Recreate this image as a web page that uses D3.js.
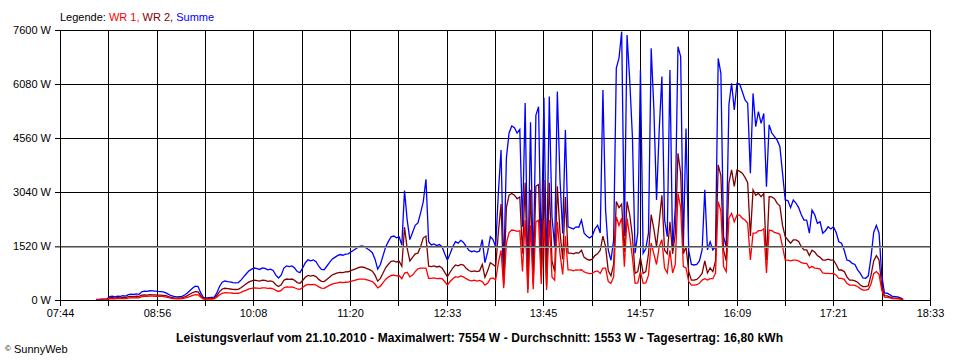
<!DOCTYPE html>
<html>
<head>
<meta charset="utf-8">
<script src="https://cdn.jsdelivr.net/npm/d3@7"></script>
<style>
  html, body { margin: 0; padding: 0; background: #fff; }
  svg { display: block; }
  text { font-family: "Liberation Sans", Arial, sans-serif; }
</style>
</head>
<body>
<svg id="chart" width="960" height="360"></svg>
<script>
// ---------- data ----------
const legendLabels = ["WR 1", "WR 2", "Summe"];
const xTickLabels = ["07:44", "08:56", "10:08", "11:20", "12:33", "13:45", "14:57", "16:09", "17:21", "18:33"];
const yTickValues = [0, 1520, 3040, 4560, 6080, 7600];
const axisStart = "07:44";
const axisEnd = "18:33";
const seriesStart = "08:11";   // first sample
const stepMinutes = 2;         // sample interval
const titleText = "Leistungsverlauf vom 21.10.2010 - Maximalwert: 7554 W - Durchschnitt: 1553 W - Tagesertrag: 16,80 kWh";

const summe = [
  20,20,25,25,30, 95,110,90,105,100,
  120,110, 150,165,155,170,160, 230,250,245,
  260,255,250,240,235,230, 200,160,120,100,
  90,95, 100,140,200,270,340,390, 380,200,
  70,60,65,70,75, 200,380,500,535, 520,
  510,490,480,490, 560,650,740,820,870, 900,
  880,860,900,890,850,870,830, 700,620,700,
  900,960,940,960,900, 800,770, 900,1050,1130,
  1100,1130, 1080,950,860, 850,950,1050, 1150,1200,
  1250,1280,1260,1290, 1300,1350,1400,1450,1500,1520,
  1500,1450,1400,1330,1150, 870, 1000,1250,1500,1650,
  1780,1800,1750,1780, 1550, 3080, 2250, 1700, 1900,2100,
  2170, 2450, 2770, 3400, 1640, 1550,1580,1530,1560,1500,
  1300, 1125, 1300,1500,1640, 1600,1680,1620, 1500,1400,
  1360,1380, 1350, 1380, 1700, 1050, 1350, 1780, 1700, 1500,
  3010, 4220, 760, 4000, 4700, 4900,4850,4700,4800, 2060,
  5545, 560, 5000, 800, 5200, 5440, 1200, 5690, 760, 5725,
  2345, 1500, 5865, 3380, 1870, 4785, 2060, 2030,2000,2060,
  2050, 2250, 1880,1800,1745, 1800, 2000, 2100, 1885, 5910,
  2530, 1400,1120,1690, 6530, 6810, 7554, 1800, 7460, 6190,
  4600, 1315, 1880, 6475, 1315, 1450, 1880, 7085, 5400, 2815,
  4785, 6290, 2250, 1780, 6475, 1410, 2600, 7130, 6850, 1500,
  4830, 1400, 1000,985,1000,1100, 1410, 3100, 1410, 1640,
  1410, 1500, 6800, 6380, 1780, 1500, 5500, 6100, 5350, 6100,
  6080, 5860, 5630, 5540, 3570, 5815, 4880, 5300, 4970, 5250,
  3190, 4930, 4700, 4600, 4500, 4320, 3570, 2815, 2800, 2600,
  2815, 2730, 2600, 2400, 2250, 2250, 1880, 2530, 2400, 2160,
  2200, 1880, 1950, 2060, 2000, 2060, 1900, 1640, 1600, 1400,
  1125, 1100, 1030, 1000, 850, 750, 620, 610, 680, 1200,
  1900, 2100, 1880, 700, 200, 190, 150, 100, 95, 90,
  60, 20
];

const wr2 = [
  12,12,15,15,18, 60,70,55,65,60,
  75,70, 95,100,95,105,100, 135,145,140,
  150,145,145,140,135,130, 120,95,75,60,
  55,60, 60,85,125,170,210,235, 230,120,
  42,38,40,42,45, 125,235,310,330, 320,
  310,300,295,300, 345,400,460,510,540, 560,
  545,530,560,550,525,540,515, 430,380,430,
  555,590,580,590,555, 490,470, 550,640,690,
  670,690, 660,580,525, 520,580,640, 705,735,
  765,780,770,790, 795,825,855,885,915,930,
  915,885,855,810,700, 530, 610,760,915,1005,
  1090,1100,1070,1090, 950, 2050, 1450, 1100, 1200,1300,
  1320, 1500, 1750, 1800, 950, 940,960,930,950,900,
  780, 655, 780,900,985, 960,1000,980, 890,830,
  800,820, 800, 820, 1000, 640, 820, 1050, 1000, 940,
  1900, 2700, 430, 2600, 2950, 3000,2950,2850,2900, 1300,
  3300, 300, 3100, 450, 3200, 3250, 700, 3380, 400, 3300,
  1100, 800, 3200, 1900, 1150, 2900, 1320, 1320,1300,1330,
  1320, 1400, 1200,1150,1120, 1150, 1250, 1300, 1400, 1800,
  1500, 820,680,1000, 2770, 2600, 2700, 1350, 2770, 2400,
  1800, 750, 800, 1200, 750, 800, 1300, 2400, 2000, 1500,
  2200, 2950, 1400, 1300, 2200, 1300, 1880, 4130, 3570, 1300,
  1500, 800, 560,560,580,650, 750, 1100, 760, 900,
  800, 1100, 3800, 3500, 1400, 1100, 3300, 3660, 3200, 3660,
  3620, 3570, 3450, 3300, 1800, 3100, 2950, 3000, 2910, 3000,
  1125, 2910, 2900, 2850, 2720, 2650, 2100, 1780, 1690, 1600,
  1690, 1690, 1650, 1500, 1410, 1410, 1250, 1400, 1350, 1250,
  1200, 1125, 1125, 1150, 1125, 1125, 1000, 845, 845, 800,
  650, 560, 560, 540, 500, 420, 375, 375, 400, 700,
  1100, 1250, 1125, 400, 120, 115, 90, 60, 55, 55,
  35, 12
];

const wr1 = [
  8,8,10,10,12, 35,40,35,40,40,
  45,40, 55,65,60,65,60, 95,105,105,
  110,110,105,100,100,100, 80,65,45,40,
  35,35, 40,55,75,100,130,150, 145,80,
  28,22,25,28,30, 75,145,190,205, 200,
  200,190,185,190, 215,250,280,310,330, 340,
  335,330,340,340,325,330,315, 270,240,270,
  345,370,360,370,345, 310,300, 350,410,440,
  430,440, 420,370,335, 330,370,410, 445,465,
  485,500,490,500, 505,525,545,565,585,590,
  585,565,545,520,450, 340, 390,490,585,645,
  690,700,680,690, 600, 760, 780, 650, 700,800,
  880, 900, 900, 900, 610, 610,620,600,610,600,
  520, 420, 520,600,655, 640,680,650, 600,560,
  540,560, 530, 550, 520, 420, 470, 600, 620, 560,
  1050, 1400, 330, 1600, 1900, 1970,1960,1930,1950, 800,
  2250, 200, 2100, 300, 2200, 2250, 450, 2250, 280, 2250,
  650, 560, 2200, 1300, 720, 1800, 850, 850,820,850,
  840, 850, 790,760,740, 750, 800, 820, 750, 900,
  900, 520,470,650, 2345, 2100, 2300, 940, 2300, 1800,
  1200, 470, 480, 800, 470, 480, 700, 1600, 1300, 1000,
  1500, 1700, 900, 760, 1400, 760, 1000, 3000, 2600, 940,
  900, 520, 420,420,430,470, 560, 600, 560, 600,
  600, 750, 2770, 2500, 940, 800, 2300, 2440, 2200, 2390,
  2390, 2300, 2250, 2160, 1125, 1880, 1880, 1950, 1950, 2000,
  760, 1970, 1950, 1900, 1880, 1850, 1500, 1125, 1125, 1100,
  1125, 1125, 1100, 1050, 1030, 1030, 900, 950, 900, 890,
  870, 760, 750, 750, 740, 750, 700, 610, 610, 580,
  470, 420, 420, 410, 380, 320, 280, 280, 300, 450,
  740, 800, 720, 280, 80, 75, 60, 40, 40, 35,
  25, 8
];

// ---------- drawing ----------
(function () {
const toMin = s => { const [h, m] = s.split(":").map(Number); return h * 60 + m; };
const t0 = toMin(axisStart), t1 = toMin(axisEnd), ts = toMin(seriesStart);

const svg = d3.select("#chart");
const L = 60, R = 930, T = 30, B = 300;

const x = d3.scaleLinear().domain([t0, t1]).range([L, R]);
const y = d3.scaleLinear().domain([0, 7600]).range([B, T]);

const nIntervals = (xTickLabels.length - 1) * 2;
const xTickValues = d3.range(nIntervals + 1).map(k => t0 + k * (t1 - t0) / nIntervals);

const px = v => Math.round(v) + 0.5;

// vertical gridlines
svg.append("g").selectAll("line").data(xTickValues).join("line")
  .attr("x1", d => px(x(d))).attr("x2", d => px(x(d)))
  .attr("y1", T).attr("y2", B)
  .attr("stroke", "#000").attr("stroke-width", 1).attr("shape-rendering", "crispEdges");

// horizontal gridlines
svg.append("g").selectAll("line").data(yTickValues.filter(v => v !== 1520)).join("line")
  .attr("x1", L - 5).attr("x2", R)
  .attr("y1", d => px(y(d))).attr("y2", d => px(y(d)))
  .attr("stroke", "#000").attr("stroke-width", 1).attr("shape-rendering", "crispEdges");

// series
const line = arr => d3.line()
  .x((d, i) => x(ts + i * stepMinutes))
  .y(d => y(d))(arr);

const seriesDefs = [
  { data: summe, color: "#0000ff" },
  { data: wr2, color: "#800000" },
  { data: wr1, color: "#ff0000" }
];
svg.append("g").selectAll("path").data(seriesDefs).join("path")
  .attr("d", d => line(d.data))
  .attr("fill", "none")
  .attr("stroke", d => d.color)
  .attr("stroke-width", 1.3)
  .attr("stroke-linejoin", "miter");

// 1520 line (grey double line) drawn on top
const y1520 = Math.round(y(1520));
svg.append("line").attr("x1", L - 5).attr("x2", R)
  .attr("y1", y1520 + 0.5).attr("y2", y1520 + 0.5)
  .attr("stroke", "#505050").attr("shape-rendering", "crispEdges");
svg.append("line").attr("x1", L - 5).attr("x2", R)
  .attr("y1", y1520 + 1.5).attr("y2", y1520 + 1.5)
  .attr("stroke", "#a0a0a0").attr("shape-rendering", "crispEdges");

// x axis
const xAxis = d3.axisBottom(x).tickValues(xTickValues).tickSize(5).tickSizeOuter(0)
  .tickFormat((d, i) => i % 2 === 0 ? xTickLabels[i / 2] : "");
const gx = svg.append("g").attr("transform", `translate(0,${B + 0.5})`).call(xAxis);
gx.select(".domain").attr("stroke", "#000").attr("shape-rendering", "crispEdges").attr("d", `M${L},0H${R + 1}`);
gx.selectAll(".tick").attr("transform", d => `translate(${px(x(d))},0)`);
gx.selectAll(".tick line").attr("stroke", "#000").attr("shape-rendering", "crispEdges");
gx.selectAll(".tick text").attr("font-size", 11).attr("fill", "#000").attr("y", 9).attr("dy", "0.71em")
  .attr("font-family", "Liberation Sans, Arial, sans-serif");

// y labels
svg.append("g").selectAll("text").data(yTickValues).join("text")
  .attr("x", 51).attr("y", d => y(d)).attr("dy", "0.36em")
  .attr("text-anchor", "end").attr("font-size", 11).attr("fill", "#000")
  .text(d => d + " W");

// left axis line
svg.append("line").attr("x1", px(L)).attr("x2", px(L)).attr("y1", T).attr("y2", B + 5)
  .attr("stroke", "#000").attr("shape-rendering", "crispEdges");

// legend
const colors = ["#ff0000", "#800000", "#0000ff"];
const leg = svg.append("text").attr("x", 60).attr("y", 20.5).attr("font-size", 11);
leg.append("tspan").attr("fill", "#000").text("Legende: ");
legendLabels.forEach((l, i) => {
  leg.append("tspan").attr("fill", colors[i]).text(l + (i < legendLabels.length - 1 ? ", " : ""));
});

// title
svg.append("text").attr("x", 176).attr("y", 341.5)
  .attr("font-size", 12).attr("font-weight", "bold").attr("fill", "#000")
  .attr("textLength", 607).attr("lengthAdjust", "spacing")
  .text(titleText);

// copyright
const cp = svg.append("text").attr("x", 5).attr("y", 353).attr("font-size", 11).attr("fill", "#000");
cp.append("tspan").attr("font-size", 8).attr("dy", -2).text("©");
cp.append("tspan").attr("dy", 2).text(" SunnyWeb");
})();
</script>
</body>
</html>
